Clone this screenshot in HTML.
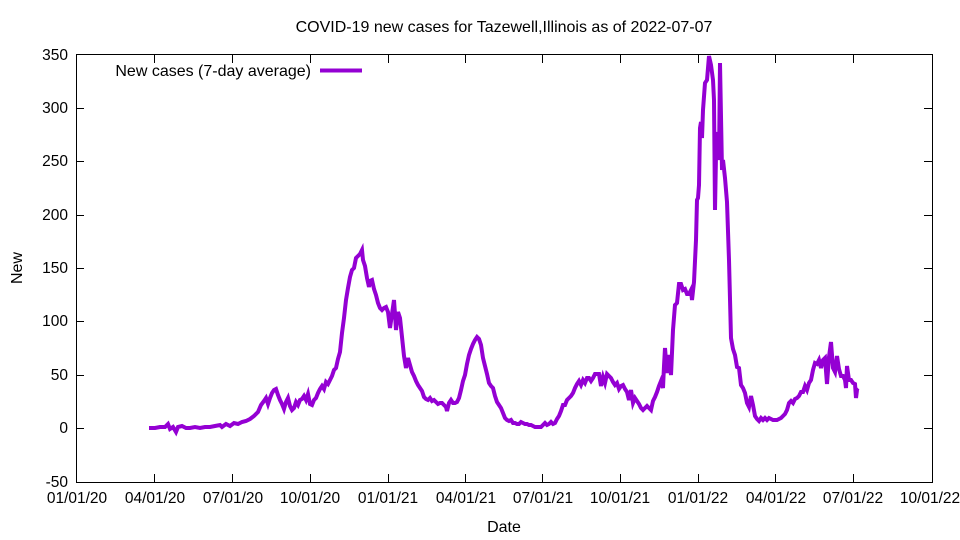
<!DOCTYPE html>
<html><head><meta charset="utf-8"><style>body{margin:0;background:#fff}svg{display:block}text{font-family:"Liberation Sans",sans-serif;font-size:15.5px;fill:#000}.b{font-size:16px}</style></head>
<body>
<svg width="960" height="540" viewBox="0 0 960 540" xmlns="http://www.w3.org/2000/svg">
<rect x="76.5" y="54.5" width="856" height="428" fill="none" stroke="#000" stroke-width="1"/>
<g stroke="#000" stroke-width="1">
<path d="M76 108.5h8M932 108.5h-8M76 161.5h8M932 161.5h-8M76 215.5h8M932 215.5h-8M76 268.5h8M932 268.5h-8M76 321.5h8M932 321.5h-8M76 375.5h8M932 375.5h-8M76 428.5h8M932 428.5h-8"/>
<path d="M154.5 482v-8M154.5 55v8M232.5 482v-8M232.5 55v8M310.5 482v-8M310.5 55v8M388.5 482v-8M388.5 55v8M465.5 482v-8M465.5 55v8M542.5 482v-8M542.5 55v8M620.5 482v-8M620.5 55v8M698.5 482v-8M698.5 55v8M775.5 482v-8M775.5 55v8M853.5 482v-8M853.5 55v8"/>
</g>
<g text-anchor="end">
<text x="68" y="60">350</text><text x="68" y="113">300</text><text x="68" y="166">250</text><text x="68" y="220">200</text><text x="68" y="273">150</text><text x="68" y="326">100</text><text x="68" y="380">50</text><text x="68" y="433">0</text><text x="68" y="487">-50</text>
</g>
<g text-anchor="middle">
<text x="77" y="503">01/01/20</text><text x="155" y="503">04/01/20</text><text x="233" y="503">07/01/20</text><text x="310" y="503">10/01/20</text><text x="388" y="503">01/01/21</text><text x="466" y="503">04/01/21</text><text x="543" y="503">07/01/21</text><text x="620" y="503">10/01/21</text><text x="698" y="503">01/01/22</text><text x="776" y="503">04/01/22</text><text x="853" y="503">07/01/22</text><text x="930" y="503">10/01/22</text>
<text class="b" x="504" y="532">Date</text>
<text class="b" x="504" y="32">COVID-19 new cases for Tazewell,Illinois as of 2022-07-07</text>
</g>
<text class="b" x="22" y="268" text-anchor="middle" transform="rotate(-90 22 268)">New</text>
<text class="b" x="311" y="76" text-anchor="end">New cases (7-day average)</text>
<path d="M320 70.5h42" stroke="#9400d3" stroke-width="4"/>
<polyline fill="none" stroke="#9400d3" stroke-width="4" stroke-linejoin="miter" points="149,428 155,428 160,427 165,427 168,424 170,429 173,427 176,432 178,427 182,426 186,428 190,428 195,427 200,428 205,427 210,427 215,426 220,425 222,427 226,424 230,426 234,423 238,424 242,422 246,421 250,419 254,416 258,412 261,405 264,401 266,398 268,404 270,398 272,393 274,390 276,389 278,395 280,400 282,404 284,409 286,402 288,398 290,406 292,410 294,408 296,402 298,405 300,400 302,399 304,396 306,400 308,394 310,404 312,405 314,400 316,398 318,393 320,389 322,386 324,389 326,382 328,384 330,380 332,376 334,370 336,368 338,359 340,352 342,333 344,318 346,300 348,288 350,277 352,270 354,268 356,258 358,256 360,254 362,250 363,260 365,266 367,278 369,287 370,281 372,280 374,289 376,295 378,303 380,308 382,310 384,308 386,307 388,312 390,328 392,314 394,300 395,314 396,330 398,312 400,318 402,337 404,356 406,368 408,358 410,365 412,372 414,376 416,381 418,385 420,388 422,391 424,397 426,399 428,400 430,398 432,401 434,400 436,402 438,404 440,403 442,403 444,405 446,407 447,411 449,403 451,400 453,403 455,403 457,402 459,398 461,390 463,381 465,375 467,364 469,355 471,349 473,344 475,340 477,337 479,339 481,345 483,358 485,366 487,374 489,383 491,386 493,388 495,396 497,402 499,405 501,408 503,413 505,418 507,420 509,421 511,420 513,423 515,423 517,424 519,424 521,422 523,423 525,424 527,424 529,425 531,425 533,426 535,427 537,427 539,427 541,427 543,425 545,423 547,425 549,424 551,422 553,424 555,423 557,419 559,416 561,411 563,405 565,405 567,400 569,398 571,396 573,393 575,388 577,384 579,381 581,385 583,380 585,383 587,378 589,378 591,381 593,378 595,374 597,374 599,374 601,386 603,377 605,383 607,374 609,376 611,378 613,382 615,385 617,383 619,389 621,386 623,385 625,389 627,392 629,400 631,390 633,403 635,398 637,401 639,404 641,408 643,410 645,408 647,406 649,408 651,410 653,401 655,397 657,392 659,386 661,381 663,388 664,366 665,348 667,373 669,355 671,375 673,330 675,305 677,303 679,284 681,284 683,290 685,289 687,294 689,294 691,290 692,300 694,282 696,240 697,200 698,198 699,185 700,128 701,122 702,138 703,110 705,83 707,80 709,56 711,65 713,80 714,100 715,210 716,155 717,148 718,132 719,160 720,63 722,170 723,160 725,178 727,202 729,260 731,338 733,349 735,355 737,367 739,368 741,385 743,388 745,393 747,403 749,407 751,396 753,405 755,416 757,419 759,421 761,418 763,420 765,418 767,420 769,418 771,419 773,420 775,420 777,420 779,419 781,418 783,416 785,414 787,410 789,403 791,401 793,403 795,399 797,398 799,396 801,392 803,392 805,386 807,390 809,383 811,380 813,370 815,363 817,364 819,360 821,368 823,360 825,358 827,384 829,357 831,342 833,368 835,372 837,356 839,369 841,376 843,376 845,380 846,388 847,366 849,380 851,380 853,383 855,384 856,398 857,390 858,391"/>
</svg>
</body></html>
